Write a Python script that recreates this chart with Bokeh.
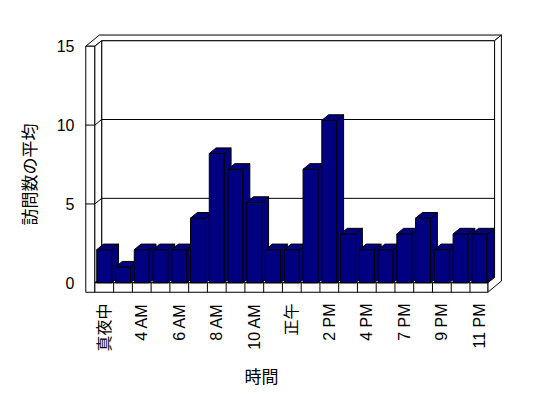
import math
from bokeh.plotting import figure
from bokeh.models import Range1d, FixedTicker, Title
from bokeh.embed import file_html
from bokeh.resources import INLINE

# ---- data ----
hours = ["真夜中", "3 AM", "4 AM", "5 AM", "6 AM", "7 AM", "8 AM", "9 AM", "10 AM", "11 AM",
         "正午", "1 PM", "2 PM", "3 PM", "4 PM", "5 PM", "7 PM", "8 PM", "9 PM", "10 PM", "11 PM"]
visits = [2.1, 1.0, 2.1, 2.1, 2.1, 4.1, 8.2, 7.2, 5.1, 2.1, 2.1,
          7.2, 10.3, 3.1, 2.1, 2.1, 3.1, 4.1, 2.1, 3.1, 3.1]
y_ticks = [0, 5, 10, 15]
x_tick_idx = list(range(0, 21, 2))
y_title = "訪問数の平均"
x_title = "時間"

# ---- geometry (3D look) ----
N = len(hours)
YMAX = y_ticks[-1]
BW = 0.8            # bar front width (category units)
DX, DY = 0.362, 0.355  # depth offset of one unit of depth
XL = -0.985         # outer face of left wall
XI = -0.5           # inner face of left wall
XR = N - 0.55       # right end of floor front
FB = -0.6           # floor bottom

p = figure(width=548, height=398, output_backend="svg", toolbar_location=None, tools="",
           x_range=Range1d(-1.053, 21.287), y_range=Range1d(-0.6785, 15.808),
           min_border_left=83, min_border_right=45, min_border_top=33, min_border_bottom=105)
p.outline_line_color = None
p.xgrid.visible = False
p.ygrid.visible = False
p.background_fill_color = "white"
p.border_fill_color = "white"

# axes
p.yaxis.ticker = FixedTicker(ticks=y_ticks)
p.yaxis.axis_line_color = None
p.yaxis.major_tick_line_color = None
p.yaxis.minor_tick_line_color = None
p.yaxis.major_tick_out = 0
p.yaxis.major_label_standoff = 10
p.yaxis.major_label_text_font = "Liberation Sans"
p.yaxis.major_label_text_font_size = "16px"
p.yaxis.major_label_text_color = "black"

p.xaxis.ticker = FixedTicker(ticks=x_tick_idx)
p.xaxis.major_label_overrides = {i: hours[i] for i in x_tick_idx}
p.xaxis.major_label_orientation = math.pi / 2
p.xaxis.axis_line_color = None
p.xaxis.major_tick_line_color = None
p.xaxis.minor_tick_line_color = None
p.xaxis.major_tick_out = 0
p.xaxis.major_label_standoff = 10
p.xaxis.major_label_text_font = "Liberation Sans, Noto Sans CJK JP"
p.xaxis.major_label_text_font_size = "16px"
p.xaxis.major_label_text_color = "black"

# ---- walls and floor ----
sx, sy = [], []
# back wall front face
sx.append([XI + DX, XR + DX, XR + DX, XI + DX]); sy.append([DY, DY, YMAX + DY, YMAX + DY])
# top L-shape (left wall top + back wall top)
sx.append([XL, XI, XI + DX, XR + DX, XR + 2 * DX, XL + 2 * DX])
sy.append([YMAX, YMAX, YMAX + DY, YMAX + DY, YMAX + 2 * DY, YMAX + 2 * DY])
# right L-shape (floor side + back wall side)
sx.append([XR, XR + DX, XR + DX, XR + 2 * DX, XR + 2 * DX, XR])
sy.append([0, DY, YMAX + DY, YMAX + 2 * DY, FB + 2 * DY, FB])
# left wall front face
sx.append([XL, XI, XI, XL]); sy.append([FB, FB, YMAX, YMAX])
# left wall inner face
sx.append([XI, XI + DX, XI + DX, XI]); sy.append([0, DY, YMAX + DY, YMAX])
# floor top face
sx.append([XI, XR, XR + DX, XI + DX]); sy.append([0, 0, DY, DY])
# floor front face
sx.append([XI, XR, XR, XI]); sy.append([FB, FB, 0, 0])
p.patches(sx, sy, fill_color="white", line_color="black", line_width=1)

lx, ly = [], []
for t in y_ticks[1:-1]:
    lx.append([XL, XI, XI + DX, XR + DX]); ly.append([t, t, t + DY, t + DY])
for k in range(N - 1):
    lx.append([k + 0.5, k + 0.5]); ly.append([FB, 0])
p.multi_line(lx, ly, line_color="black", line_width=1)

# ---- bars (front, side, top; left to right) ----
bx, by = [], []
for i, v in enumerate(visits):
    l, r = i - BW / 2, i + BW / 2
    bx.append([l, r, r, l]); by.append([0, 0, v, v])
    bx.append([r, r + DX, r + DX, r]); by.append([0, DY, v + DY, v])
    bx.append([l, r, r + DX, l + DX]); by.append([v, v, v + DY, v + DY])
p.patches(bx, by, fill_color="#000080", line_color="black", line_width=1)

# ---- titles ----
p.add_layout(Title(text=y_title, align="left", offset=68, standoff=26,
                   text_font="Noto Sans CJK JP", text_font_size="17px",
                   text_font_style="normal", text_color="black"), "left")
p.add_layout(Title(text=x_title, align="left", offset=160, standoff=13,
                   text_font="Noto Sans CJK JP", text_font_size="17px",
                   text_font_style="normal", text_color="black"), "below")

open("out.html", "w").write(file_html(p, INLINE))
